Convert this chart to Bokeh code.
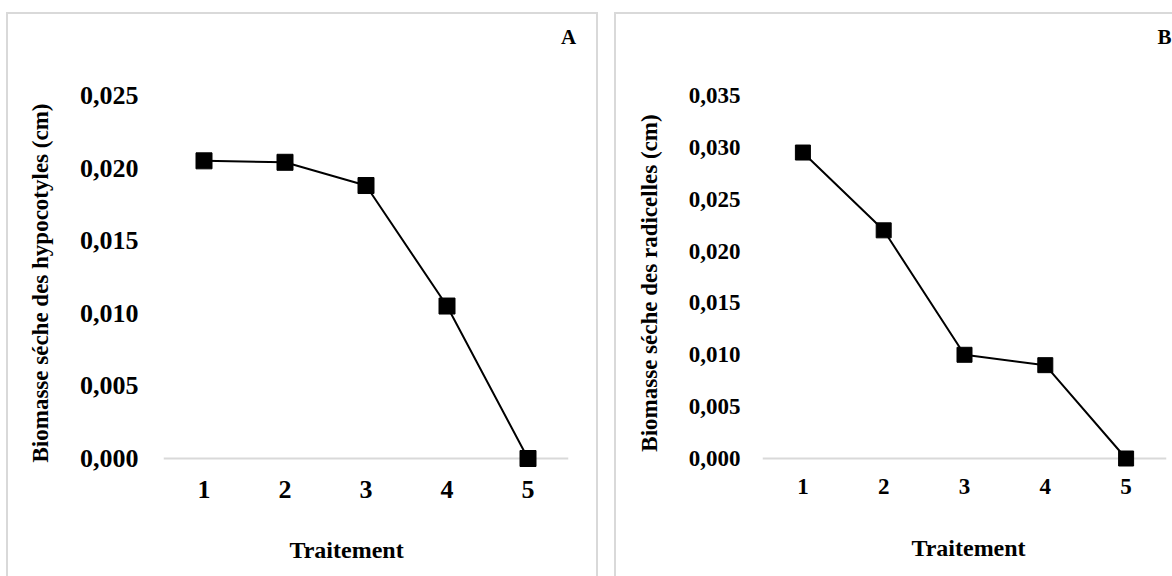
from bokeh.plotting import figure
from bokeh.models import Range1d, FixedTicker, Span, LinearAxis
from bokeh.layouts import row
from bokeh.embed import file_html
from bokeh.resources import INLINE

# ---- data ----
treatments = [1, 2, 3, 4, 5]
treatment_labels = ["1", "2", "3", "4", "5"]
hypocotyles = [0.0205, 0.0204, 0.0188, 0.0105, 0.0000]
radicelles = [0.0295, 0.0220, 0.0100, 0.0090, 0.0000]

ticks_a = [0.0, 0.005, 0.010, 0.015, 0.020, 0.025]
tick_labels_a = ["0,000", "0,005", "0,010", "0,015", "0,020", "0,025"]
ticks_b = [0.0, 0.005, 0.010, 0.015, 0.020, 0.025, 0.030, 0.035]
tick_labels_b = ["0,000", "0,005", "0,010", "0,015", "0,020", "0,025", "0,030", "0,035"]

ytitle_a = "Biomasse séche des hypocotyles (cm)"
ytitle_b = "Biomasse séche des radicelles (cm)"
xtitle = "Traitement"

FONT = "Liberation Serif"
GRAY = "#d9d9d9"


def style_text_axis(ax, size, standoff):
    ax.axis_line_color = None
    ax.major_tick_line_color = None
    ax.minor_tick_line_color = None
    ax.major_tick_out = 0
    ax.major_tick_in = 0
    ax.major_label_text_font = FONT
    ax.major_label_text_font_style = "bold"
    ax.major_label_text_font_size = f"{size}px"
    ax.major_label_text_color = "black"
    ax.major_label_standoff = standoff


def make_panel(values, ticks, tick_labels, ytitle, letter, width, frame_left,
               frame_w, tick_size, xtick_size, title_size, ylab_standoff,
               ytitle_standoff, xlab_standoff, xtitle_standoff, xtitle_pos,
               letter_align, letter_standoff, marker_size, margin):
    height = 562
    frame_top = 81
    frame_h = 375
    pad_px = 12
    ymax = ticks[-1]
    ymin = -ymax * pad_px / (frame_h - pad_px)
    p = figure(width=width, height=height,
               x_range=Range1d(treatments[0] - 0.5, treatments[-1] + 0.5),
               y_range=Range1d(ymin, ymax), output_backend="svg", toolbar_location=None,
               min_border_left=frame_left, min_border_top=frame_top,
               min_border_right=width - frame_left - frame_w,
               min_border_bottom=height - frame_top - frame_h,
               background_fill_color="white", border_fill_color="white",
               outline_line_color=None, margin=margin)
    p.grid.visible = False
    p.extra_x_ranges = {"aux": Range1d(0, 1)}

    p.add_layout(Span(location=0, dimension="width", line_color=GRAY, line_width=2,
                      level="underlay"))
    p.line(treatments, values, line_color="black", line_width=2)
    p.scatter(treatments, values, marker="square", size=marker_size,
              fill_color="black", line_color="black")

    ya = p.yaxis[0]
    ya.ticker = FixedTicker(ticks=ticks)
    ya.major_label_overrides = {t: l for t, l in zip(ticks, tick_labels)}
    style_text_axis(ya, tick_size, ylab_standoff)
    ya.axis_label = ytitle
    ya.axis_label_text_font = FONT
    ya.axis_label_text_font_style = "bold"
    ya.axis_label_text_font_size = f"{title_size}px"
    ya.axis_label_text_color = "black"
    ya.axis_label_standoff = ytitle_standoff

    xa = p.xaxis[0]
    xa.ticker = FixedTicker(ticks=treatments)
    xa.major_label_overrides = {t: l for t, l in zip(treatments, treatment_labels)}
    style_text_axis(xa, xtick_size, xlab_standoff)

    # x-axis title, placed off-centre like the original
    xt = LinearAxis(x_range_name="aux", ticker=FixedTicker(ticks=[xtitle_pos]),
                    major_label_overrides={xtitle_pos: xtitle})
    style_text_axis(xt, title_size + 1, xtitle_standoff)
    p.add_layout(xt, "below")

    # panel letter in the top-right corner
    lt = LinearAxis(x_range_name="aux", ticker=FixedTicker(ticks=[1.0]),
                    major_label_overrides={1.0: letter})
    style_text_axis(lt, 21, letter_standoff)
    lt.major_label_text_align = letter_align
    p.add_layout(lt, "above")

    p.styles = {"outline": f"2px solid {GRAY}"}
    return p


pA = make_panel(hypocotyles, ticks_a, tick_labels_a, ytitle_a, "A", width=588,
                frame_left=155, frame_w=405, tick_size=26, xtick_size=26, title_size=23,
                ylab_standoff=25, ytitle_standoff=24, xlab_standoff=10, xtitle_standoff=36,
                xtitle_pos=0.452, letter_align="left", letter_standoff=47,
                marker_size=16, margin=(14, 0, 0, 8))
pB = make_panel(radicelles, ticks_b, tick_labels_b, ytitle_b, "B", width=556,
                frame_left=146, frame_w=404, tick_size=23, xtick_size=23, title_size=23,
                ylab_standoff=22, ytitle_standoff=24, xlab_standoff=8, xtitle_standoff=38,
                xtitle_pos=0.51, letter_align="right", letter_standoff=47,
                marker_size=15, margin=(14, 0, 0, 20))

layout = row(pA, pB, margin=0)

open("out.html", "w").write(file_html(layout, INLINE))
